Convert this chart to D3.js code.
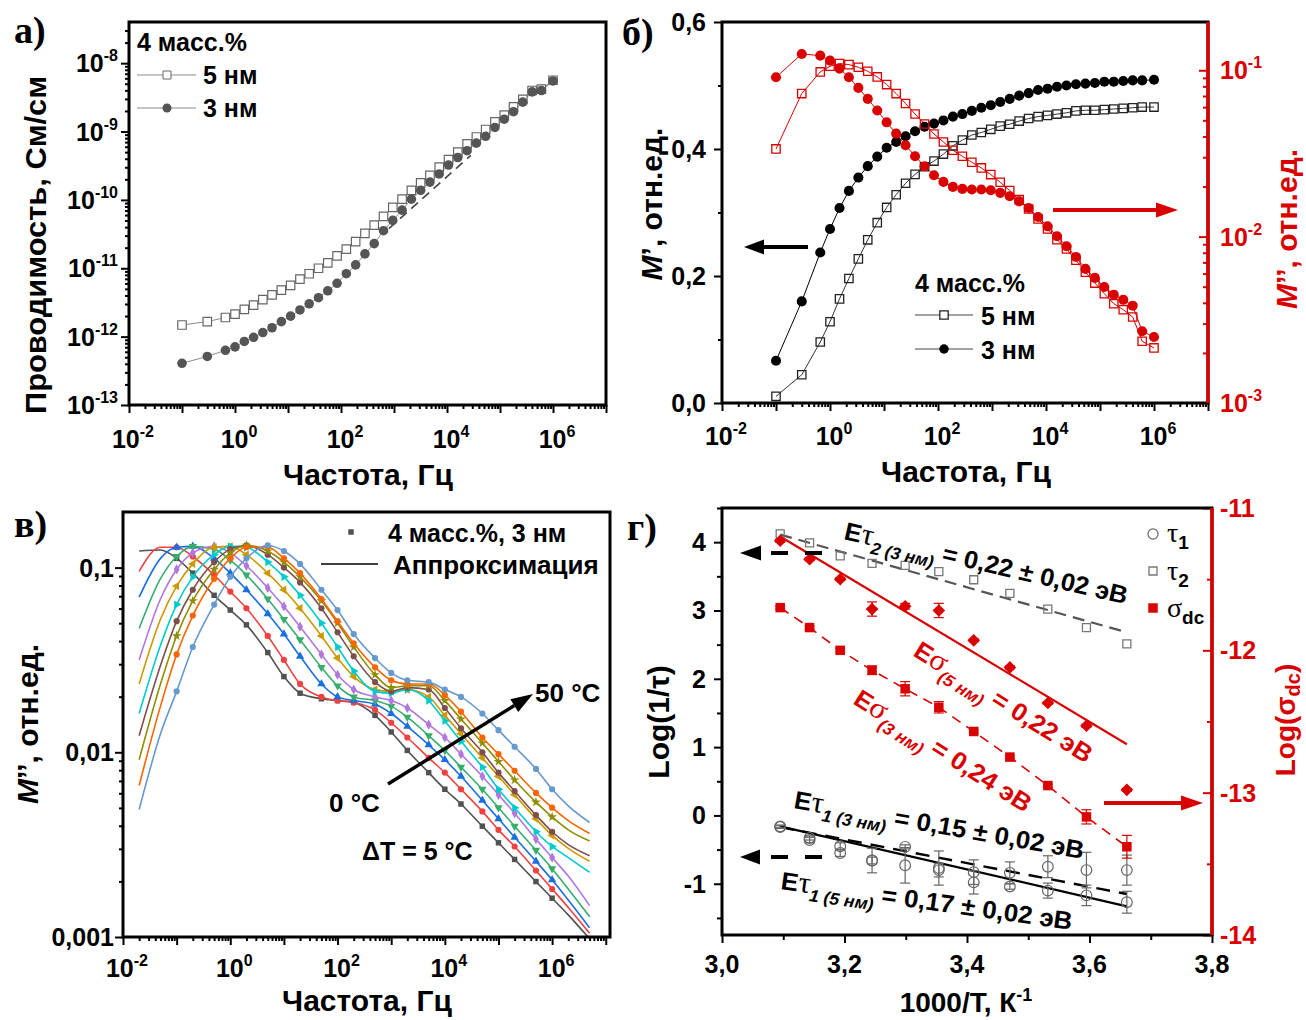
<!DOCTYPE html>
<html>
<head>
<meta charset="utf-8">
<script src="https://cdn.jsdelivr.net/npm/d3@7"></script>
<style>
  body { margin: 0; background: #fff; }
  text { font-family: "Liberation Sans", Arial, sans-serif; font-weight: bold; }
  .serif { font-family: "Liberation Serif", "Times New Roman", serif; }
</style>
</head>
<body>
<svg id="fig" width="1306" height="1020"></svg>
<script>
// ---- panels а, б: measurement frequencies (Hz)
const freq = [0.1, 0.3, 0.66, 1, 1.5, 2.24, 3.35, 5, 7.5, 11.2, 16.8, 25.1, 37.6, 56.3, 84.3, 126, 189, 283, 423, 634, 949, 1420, 2127, 3184, 4767, 7136, 10680, 15990, 23940, 35840, 53660, 80330, 120300, 180000, 269500, 403500, 604000, 1000000];

// panel а: log10 of conductivity, S/cm
const sigma5Log = [-11.83,-11.78,-11.72,-11.67,-11.60,-11.54,-11.46,-11.39,-11.32,-11.25,-11.16,-11.08,-11.00,-10.92,-10.82,-10.72,-10.61,-10.49,-10.37,-10.24,-10.11,-9.99,-9.86,-9.75,-9.64,-9.52,-9.41,-9.30,-9.18,-9.08,-8.97,-8.86,-8.76,-8.64,-8.53,-8.40,-8.38,-8.25];
const sigma3Log = [-12.39,-12.29,-12.20,-12.15,-12.07,-12.01,-11.94,-11.87,-11.78,-11.70,-11.61,-11.52,-11.43,-11.33,-11.22,-11.08,-10.95,-10.79,-10.64,-10.45,-10.30,-10.15,-9.99,-9.86,-9.74,-9.62,-9.49,-9.38,-9.28,-9.17,-9.07,-8.94,-8.82,-8.71,-8.57,-8.42,-8.40,-8.26];
const dashFreqA = [800, 28000];
const dashSigmaLogA = [-10.42, -9.35];

// panel б: M' (linear) and log10 M''
const mPrime5 = [0.0105,0.0445,0.096,0.128,0.164,0.196,0.227,0.257,0.284,0.308,0.328,0.346,0.360,0.372,0.381,0.392,0.405,0.414,0.422,0.426,0.431,0.436,0.439,0.444,0.448,0.451,0.453,0.455,0.457,0.460,0.461,0.461,0.462,0.463,0.464,0.465,0.466,0.466];
const mPrime3 = [0.0665,0.160,0.237,0.274,0.307,0.334,0.355,0.373,0.388,0.402,0.411,0.420,0.428,0.435,0.440,0.445,0.451,0.455,0.460,0.465,0.469,0.474,0.479,0.484,0.488,0.493,0.495,0.498,0.500,0.502,0.503,0.504,0.506,0.506,0.507,0.508,0.508,0.509];
const mpp5Log = [-1.473,-1.140,-1.010,-0.976,-0.960,-0.966,-0.982,-1.006,-1.040,-1.086,-1.140,-1.200,-1.263,-1.323,-1.383,-1.431,-1.481,-1.517,-1.553,-1.587,-1.627,-1.673,-1.723,-1.778,-1.834,-1.894,-1.954,-2.018,-2.074,-2.142,-2.214,-2.279,-2.343,-2.403,-2.439,-2.483,-2.629,-2.669];
const mpp3Log = [-1.042,-0.902,-0.912,-0.942,-0.990,-1.042,-1.106,-1.172,-1.242,-1.313,-1.381,-1.451,-1.517,-1.577,-1.631,-1.671,-1.701,-1.713,-1.717,-1.717,-1.721,-1.737,-1.757,-1.788,-1.828,-1.882,-1.938,-1.998,-2.058,-2.122,-2.194,-2.248,-2.303,-2.349,-2.379,-2.415,-2.569,-2.603];

// panel в: log10 M'' at 0..50 °C, step 5 °C
const fitFreq = [0.02,0.05,0.1,0.2,0.5,1,2,5,10,20,50,100,200,500,1e3,2e3,5e3,1e4,2e4,5e4,1e5,2e5,5e5,1e6,2e6,5e6];
const mpp00 = [-0.91,-0.905,-0.95,-1.03,-1.15,-1.23,-1.31,-1.46,-1.59,-1.68,-1.71,-1.72,-1.73,-1.80,-1.89,-1.99,-2.11,-2.20,-2.28,-2.40,-2.49,-2.58,-2.70,-2.79,-2.88,-3.01];
const mpp05 = [-1.02,-0.89,-0.89,-0.94,-1.04,-1.13,-1.22,-1.37,-1.50,-1.63,-1.70,-1.72,-1.73,-1.77,-1.84,-1.92,-2.03,-2.11,-2.20,-2.32,-2.42,-2.51,-2.64,-2.74,-2.84,-2.98];
const mpp10 = [-1.16,-0.95,-0.89,-0.885,-0.95,-1.03,-1.12,-1.25,-1.36,-1.48,-1.63,-1.70,-1.72,-1.74,-1.79,-1.86,-1.96,-2.04,-2.13,-2.26,-2.36,-2.46,-2.59,-2.69,-2.80,-2.95];
const mpp15 = [-1.33,-1.06,-0.94,-0.885,-0.90,-0.96,-1.04,-1.17,-1.28,-1.39,-1.54,-1.64,-1.70,-1.72,-1.75,-1.81,-1.91,-1.99,-2.08,-2.20,-2.30,-2.40,-2.53,-2.63,-2.74,-2.89];
const mpp20 = [-1.50,-1.17,-1.01,-0.92,-0.885,-0.92,-0.99,-1.11,-1.21,-1.32,-1.47,-1.58,-1.66,-1.70,-1.72,-1.76,-1.85,-1.92,-2.01,-2.13,-2.23,-2.33,-2.47,-2.57,-2.67,-2.83];
const mpp25 = [-1.63,-1.28,-1.10,-0.98,-0.89,-0.885,-0.93,-1.03,-1.12,-1.22,-1.37,-1.49,-1.59,-1.66,-1.67,-1.66,-1.70,-1.80,-1.90,-2.03,-2.13,-2.23,-2.36,-2.45,-2.52,-2.59];
const mpp30 = [-1.79,-1.42,-1.20,-1.05,-0.93,-0.885,-0.89,-0.97,-1.05,-1.15,-1.30,-1.43,-1.56,-1.67,-1.68,-1.66,-1.72,-1.83,-1.94,-2.08,-2.20,-2.30,-2.43,-2.51,-2.57,-2.65];
const mpp35 = [-1.91,-1.53,-1.29,-1.12,-0.97,-0.90,-0.88,-0.93,-1.00,-1.08,-1.22,-1.35,-1.48,-1.62,-1.67,-1.65,-1.66,-1.76,-1.87,-2.00,-2.11,-2.21,-2.34,-2.43,-2.50,-2.56];
const mpp40 = [-2.04,-1.63,-1.37,-1.18,-1.01,-0.92,-0.88,-0.91,-0.97,-1.05,-1.18,-1.30,-1.43,-1.58,-1.65,-1.64,-1.64,-1.72,-1.82,-1.95,-2.05,-2.15,-2.27,-2.35,-2.42,-2.48];
const mpp45 = [-2.18,-1.75,-1.47,-1.26,-1.06,-0.95,-0.89,-0.89,-0.95,-1.03,-1.17,-1.29,-1.41,-1.54,-1.61,-1.63,-1.63,-1.69,-1.78,-1.92,-2.01,-2.10,-2.22,-2.30,-2.37,-2.44];
const mpp50 = [-2.31,-1.90,-1.67,-1.43,-1.20,-1.05,-0.95,-0.88,-0.91,-0.98,-1.12,-1.23,-1.36,-1.49,-1.57,-1.61,-1.62,-1.66,-1.70,-1.79,-1.88,-1.97,-2.09,-2.20,-2.29,-2.38];

// panel г: 1000/T and Arrhenius data
const invT = [3.095, 3.143, 3.193, 3.245, 3.299, 3.354, 3.411, 3.470, 3.532, 3.595, 3.661];
const tau2 = [4.12, 3.99, 3.80, 3.69, 3.66, 3.57, 3.45, 3.25, 3.02, 2.75, 2.51];
const tau1a = [-0.17,-0.36,-0.55,-0.66,-0.73,-0.77,-0.83,-0.84,-0.75,-0.80,-0.80];
const tau1aErr = [0.02,0.04,0.05,0.05,0.26,0.25,0.18,0.16,0.16,0.26,0.22];
const tau1b = [-0.16,-0.33,-0.45,-0.66,-0.46,-0.80,-0.98,-1.04,-1.10,-1.17,-1.27];
const tau1bErr = [0.02,0.03,0.05,0.18,0.03,0.10,0.17,0.04,0.11,0.15,0.16];
const sigma3dc = [-11.70,-11.84,-12.00,-12.14,-12.27,-12.40,-12.57,-12.75,-12.95,-13.17,-13.38];
const sigma3dcErr = [0.01,0.01,0.01,0.03,0.05,0.04,0.01,0.01,0.01,0.05,0.08];
const sigma5dc = [-11.23,-11.36,-11.50,-11.71,-11.69,-11.72,-11.93,-12.12,-12.37,-12.53,-12.98];
const sigma5dcErr = [0.01,0.01,0.01,0.05,0.02,0.05,0.01,0.01,0.01,0.01,0.01];
const fitX = [3.095, 3.661];
const tau2Fit = [4.11, 2.68];
const tau1aFit = [-0.17, -1.15];
const tau1bFit = [-0.16, -1.33];
const sigma5Fit = [-11.20, -12.66];

// ---------------------------------------------------------------
const RED = '#d90000';
const svg = d3.select('#fig');
svg.append('rect').attr('width', 1306).attr('height', 1020).attr('fill', '#fff');

function decades(scale) {
  const [a, b] = scale.domain();
  return d3.range(Math.ceil(Math.log10(a) - 1e-9), Math.floor(Math.log10(b) + 1e-9) + 1).map(n => 10 ** n);
}
function minors(scale) {
  const [a, b] = scale.domain(), out = [];
  for (let n = Math.floor(Math.log10(a)); n <= Math.ceil(Math.log10(b)); n++)
    for (let k = 2; k <= 9; k++) { const v = k * 10 ** n; if (v > a && v < b) out.push(v); }
  return out;
}
function ticks(g, axisFn, scale, values, size, transform, color) {
  const a = g.append('g').attr('transform', transform)
    .call(axisFn(scale).tickValues(values).tickSize(size).tickFormat(''));
  a.select('.domain').remove();
  a.selectAll('line').attr('stroke', color || '#000').attr('stroke-width', 2);
}
function powText(g, x, y, exp, anchor, color) {
  const t = g.append('text').attr('x', x).attr('y', y).attr('text-anchor', anchor)
    .attr('font-size', 25).attr('fill', color || '#000');
  t.append('tspan').text('10');
  t.append('tspan').attr('dy', -11).attr('font-size', 16).text(exp);
}
function frame(g, x, y) {
  const [x0, x1] = x.range(), [y0, y1] = y.range();
  g.append('rect').attr('x', x0).attr('y', y1).attr('width', x1 - x0).attr('height', y0 - y1)
    .attr('fill', 'none').attr('stroke', '#000').attr('stroke-width', 3);
}
function clip(id, x, y) {
  const [x0, x1] = x.range(), [y0, y1] = y.range();
  svg.append('clipPath').attr('id', id).append('rect')
    .attr('x', x0).attr('y', y1).attr('width', x1 - x0).attr('height', y0 - y1);
}
function arrow(g, x1, y1, x2, y2, color, w, hl, hw, dash) {
  const ang = Math.atan2(y2 - y1, x2 - x1);
  const bx = x2 - hl * Math.cos(ang), by = y2 - hl * Math.sin(ang);
  g.append('line').attr('x1', x1).attr('y1', y1).attr('x2', bx).attr('y2', by)
    .attr('stroke', color).attr('stroke-width', w).attr('stroke-dasharray', dash || null);
  const px = -Math.sin(ang) * hw / 2, py = Math.cos(ang) * hw / 2;
  g.append('path').attr('d', `M${x2},${y2}L${bx + px},${by + py}L${bx - px},${by - py}Z`).attr('fill', color);
}
function title(g, x, y, rot, txt, size, color, len) {
  const t = g.append('text').attr('transform', `translate(${x},${y}) rotate(${rot})`)
    .attr('text-anchor', 'middle').attr('font-size', size).attr('fill', color || '#000').text(txt);
  if (len) t.attr('textLength', len).attr('lengthAdjust', 'spacingAndGlyphs');
  return t;
}
function mTitle(g, x, y, primes, color) {
  const t = g.append('text').attr('transform', `translate(${x},${y}) rotate(-90)`)
    .attr('text-anchor', 'middle').attr('font-size', 30).attr('fill', color);
  t.append('tspan').attr('font-style', 'italic').text('M');
  t.append('tspan').text(primes + ', отн.ед.');
}
function letter(x, y, txt) {
  svg.append('text').attr('class', 'serif').attr('x', x).attr('y', y).attr('font-size', 38).text(txt);
}
const comma = v => String(v).replace('.', ',');
const sym = (type, size) => d3.symbol().type(type).size(size)();

// =============== panel а ===============
const gA = svg.append('g');
const xA = d3.scaleLog().domain([1e-2, 1e7]).range([129, 606]);
const yA = d3.scaleLog().domain([1e-13, 4e-8]).range([405, 22]);
ticks(gA, d3.axisBottom, xA, decades(xA), 8, 'translate(0,405)');
ticks(gA, d3.axisBottom, xA, minors(xA), 4, 'translate(0,405)');
ticks(gA, d3.axisLeft, yA, decades(yA), 8, 'translate(129,0)');
ticks(gA, d3.axisLeft, yA, minors(yA), 4, 'translate(129,0)');
[-2, 0, 2, 4, 6].forEach(n => powText(gA, xA(10 ** n) + 4, 448, n, 'middle'));
[-13, -12, -11, -10, -9, -8].forEach(n => powText(gA, 118, yA(10 ** n) + 9, n, 'end'));

const lineA = d3.line().x(d => xA(d[0])).y(d => yA(10 ** d[1]));
const ptsA5 = freq.map((f, i) => [f, sigma5Log[i]]);
const ptsA3 = freq.map((f, i) => [f, sigma3Log[i]]);
gA.append('path').attr('d', lineA(ptsA5)).attr('fill', 'none').attr('stroke', '#8c8c8c').attr('stroke-width', 1);
gA.append('path').attr('d', lineA(ptsA3)).attr('fill', 'none').attr('stroke', '#8c8c8c').attr('stroke-width', 1);
gA.append('path').attr('d', lineA(dashFreqA.map((f, i) => [f, dashSigmaLogA[i]])))
  .attr('fill', 'none').attr('stroke', '#444').attr('stroke-width', 1.6).attr('stroke-dasharray', '9,6');
gA.selectAll('.a5').data(ptsA5).join('path').attr('class', 'a5')
  .attr('transform', d => `translate(${xA(d[0])},${yA(10 ** d[1])})`)
  .attr('d', sym(d3.symbolSquare, 72)).attr('fill', '#fff').attr('stroke', '#666').attr('stroke-width', 1.2);
gA.selectAll('.a3').data(ptsA3).join('path').attr('class', 'a3')
  .attr('transform', d => `translate(${xA(d[0])},${yA(10 ** d[1])})`)
  .attr('d', sym(d3.symbolCircle, 72)).attr('fill', '#555');
frame(gA, xA, yA);

gA.append('text').attr('x', 137).attr('y', 51).attr('font-size', 25).text('4 масс.%');
[[75, 'sq', '5 нм'], [108, 'ci', '3 нм']].forEach(([y, m, lab]) => {
  gA.append('line').attr('x1', 137).attr('x2', 196).attr('y1', y).attr('y2', y).attr('stroke', '#8c8c8c').attr('stroke-width', 1.2);
  gA.append('path').attr('transform', `translate(167,${y})`)
    .attr('d', sym(m === 'sq' ? d3.symbolSquare : d3.symbolCircle, 64))
    .attr('fill', m === 'sq' ? '#fff' : '#555').attr('stroke', m === 'sq' ? '#666' : 'none');
  gA.append('text').attr('x', 203).attr('y', y + 9).attr('font-size', 25).text(lab);
});
title(gA, 46, 245, -90, 'Проводимость, См/см', 30, '#000', 338);
title(gA, 368, 485, 0, 'Частота, Гц', 30);
letter(14, 43, 'а)');

// =============== panel б ===============
const gB = svg.append('g');
const xB = d3.scaleLog().domain([1e-2, 1e7]).range([722, 1208]);
const yB = d3.scaleLinear().domain([0, 0.6]).range([403, 22]);
const yB2 = d3.scaleLog().domain([1e-3, 0.195]).range([403, 22]);
ticks(gB, d3.axisBottom, xB, decades(xB), 8, 'translate(0,403)');
ticks(gB, d3.axisBottom, xB, minors(xB), 4, 'translate(0,403)');
ticks(gB, d3.axisLeft, yB, [0, 0.2, 0.4, 0.6], 8, 'translate(722,0)');
ticks(gB, d3.axisLeft, yB, [0.1, 0.3, 0.5], 4, 'translate(722,0)');
ticks(gB, d3.axisLeft, yB2, decades(yB2), 9, 'translate(1208,0)', RED);
ticks(gB, d3.axisLeft, yB2, minors(yB2), 5, 'translate(1208,0)', RED);
[-2, 0, 2, 4, 6].forEach(n => powText(gB, xB(10 ** n) + 4, 445, n, 'middle'));
[0, 0.2, 0.4, 0.6].forEach(v => gB.append('text').attr('x', 706).attr('y', yB(v) + 9)
  .attr('text-anchor', 'end').attr('font-size', 25).text(comma(v.toFixed(1))));
[-3, -2, -1].forEach(n => powText(gB, 1220, yB2(10 ** n) + 9, n, 'start', RED));

const lineB = d3.line().x(d => xB(d[0])).y(d => yB(d[1]));
const lineB2 = d3.line().x(d => xB(d[0])).y(d => yB2(10 ** d[1]));
const ptsB5 = freq.map((f, i) => [f, mPrime5[i]]);
const ptsB3 = freq.map((f, i) => [f, mPrime3[i]]);
const ptsR5 = freq.map((f, i) => [f, mpp5Log[i]]);
const ptsR3 = freq.map((f, i) => [f, mpp3Log[i]]);
gB.append('path').attr('d', lineB(ptsB5)).attr('fill', 'none').attr('stroke', '#333').attr('stroke-width', 1);
gB.append('path').attr('d', lineB(ptsB3)).attr('fill', 'none').attr('stroke', '#000').attr('stroke-width', 1);
gB.append('path').attr('d', lineB2(ptsR5)).attr('fill', 'none').attr('stroke', RED).attr('stroke-width', 1);
gB.append('path').attr('d', lineB2(ptsR3)).attr('fill', 'none').attr('stroke', RED).attr('stroke-width', 1);
gB.selectAll('.b5').data(ptsB5).join('path').attr('class', 'b5')
  .attr('transform', d => `translate(${xB(d[0])},${yB(d[1])})`)
  .attr('d', sym(d3.symbolSquare, 70)).attr('fill', 'none').attr('stroke', '#222').attr('stroke-width', 1.3);
gB.selectAll('.b3').data(ptsB3).join('path').attr('class', 'b3')
  .attr('transform', d => `translate(${xB(d[0])},${yB(d[1])})`)
  .attr('d', sym(d3.symbolCircle, 80)).attr('fill', '#000');
gB.selectAll('.r5').data(ptsR5).join('path').attr('class', 'r5')
  .attr('transform', d => `translate(${xB(d[0])},${yB2(10 ** d[1])})`)
  .attr('d', sym(d3.symbolSquare, 70)).attr('fill', 'none').attr('stroke', RED).attr('stroke-width', 1.3);
gB.selectAll('.r3').data(ptsR3).join('path').attr('class', 'r3')
  .attr('transform', d => `translate(${xB(d[0])},${yB2(10 ** d[1])})`)
  .attr('d', sym(d3.symbolCircle, 80)).attr('fill', RED);
frame(gB, xB, yB);
gB.append('line').attr('x1', 1208).attr('x2', 1208).attr('y1', 22).attr('y2', 403).attr('stroke', RED).attr('stroke-width', 3.5);

arrow(gB, 808, 247, 744, 247, '#000', 4, 20, 15);
arrow(gB, 1053, 210, 1178, 210, RED, 4, 22, 15);
gB.append('text').attr('x', 915).attr('y', 292).attr('font-size', 25).text('4 масс.%');
[[315, 'sq', '5 нм'], [349, 'ci', '3 нм']].forEach(([y, m, lab]) => {
  gB.append('line').attr('x1', 915).attr('x2', 973).attr('y1', y).attr('y2', y).attr('stroke', '#444').attr('stroke-width', 1);
  gB.append('path').attr('transform', `translate(944,${y})`)
    .attr('d', sym(m === 'sq' ? d3.symbolSquare : d3.symbolCircle, 70))
    .attr('fill', m === 'sq' ? '#fff' : '#000').attr('stroke', m === 'sq' ? '#222' : 'none').attr('stroke-width', 1.3);
  gB.append('text').attr('x', 981).attr('y', y + 10).attr('font-size', 25).text(lab);
});
mTitle(gB, 662, 204, '’', '#000');
mTitle(gB, 1297, 229, '’’', RED);
title(gB, 966, 482, 0, 'Частота, Гц', 30);
letter(622, 45, 'б)');

// =============== panel в ===============
const gC = svg.append('g');
const xC = d3.scaleLog().domain([1e-2, 1.2e7]).range([123, 610]);
const yC = d3.scaleLog().domain([1e-3, 0.2]).range([937, 512]);
clip('clipC', xC, yC);
ticks(gC, d3.axisBottom, xC, decades(xC), 8, 'translate(0,937)');
ticks(gC, d3.axisBottom, xC, minors(xC), 4, 'translate(0,937)');
ticks(gC, d3.axisLeft, yC, decades(yC), 8, 'translate(123,0)');
ticks(gC, d3.axisLeft, yC, minors(yC), 4, 'translate(123,0)');
[-2, 0, 2, 4, 6].forEach(n => powText(gC, xC(10 ** n) + 4, 977, n, 'middle'));
[[0.001, '0,001'], [0.01, '0,01'], [0.1, '0,1']].forEach(([v, s]) => gC.append('text')
  .attr('x', 114).attr('y', yC(v) + 9).attr('text-anchor', 'end').attr('font-size', 25).text(s));

const tempCurves = [mpp00, mpp05, mpp10, mpp15, mpp20, mpp25, mpp30, mpp35, mpp40, mpp45, mpp50];
const tempColors = ['#515151', '#F14040', '#1A6FDF', '#37AD6B', '#B177DE', '#CC9900', '#00CBCC', '#7D4E4E', '#8E8E00', '#FB6500', '#6699CC'];
const tempSymbols = [[d3.symbolSquare, 0], [d3.symbolCircle, 0], [d3.symbolTriangle, 0], [d3.symbolTriangle, 180],
  [d3.symbolDiamond, 0], [d3.symbolTriangle, -90], [d3.symbolTriangle, 90], [d3.symbolCircle, 0],
  [d3.symbolStar, 0], [d3.symbolCircle, 0], [d3.symbolCircle, 0]];
const lineC = d3.line().curve(d3.curveMonotoneX).x(d => xC(d[0])).y(d => yC(10 ** d[1]));
tempCurves.forEach((arr, k) => {
  const pts = arr.map((v, i) => [fitFreq[i], v]);
  gC.append('path').attr('clip-path', 'url(#clipC)').attr('d', lineC(pts))
    .attr('fill', 'none').attr('stroke', tempColors[k]).attr('stroke-width', 1.6);
  gC.selectAll(null).data(pts.filter(d => d[0] >= 0.1 && d[0] <= 1e6)).join('path')
    .attr('transform', d => `translate(${xC(d[0])},${yC(10 ** d[1])}) rotate(${tempSymbols[k][1]})`)
    .attr('d', sym(tempSymbols[k][0], 30)).attr('fill', tempColors[k]);
});
frame(gC, xC, yC);
gC.append('path').attr('transform', 'translate(351,532)').attr('d', sym(d3.symbolSquare, 30)).attr('fill', '#515151');
gC.append('text').attr('x', 388).attr('y', 542).attr('font-size', 25).text('4 масс.%, 3 нм');
gC.append('line').attr('x1', 321).attr('x2', 378).attr('y1', 564).attr('y2', 564).attr('stroke', '#000').attr('stroke-width', 1.5);
gC.append('text').attr('x', 393).attr('y', 574).attr('font-size', 26).text('Аппроксимация');
arrow(gC, 388, 784, 533, 694, '#000', 3.5, 22, 15);
gC.append('text').attr('x', 535).attr('y', 702).attr('font-size', 26).text('50 °C');
gC.append('text').attr('x', 329).attr('y', 812).attr('font-size', 26).text('0 °C');
gC.append('text').attr('x', 362).attr('y', 860).attr('font-size', 25).text('ΔT = 5 °C');
mTitle(gC, 38, 724, '’’', '#000');
title(gC, 367, 1011, 0, 'Частота, Гц', 30);
letter(14, 537, 'в)');

// =============== panel г ===============
const gD = svg.append('g');
const xD = d3.scaleLinear().domain([3.0, 3.8]).range([722, 1212]);
const yD = d3.scaleLinear().domain([-1.75, 4.5]).range([935, 508]);
const yD2 = d3.scaleLinear().domain([-14, -11]).range([935, 508]);
ticks(gD, d3.axisBottom, xD, [3.0, 3.2, 3.4, 3.6, 3.8], 8, 'translate(0,935)');
ticks(gD, d3.axisBottom, xD, [3.1, 3.3, 3.5, 3.7], 5, 'translate(0,935)');
ticks(gD, d3.axisLeft, yD, [-1, 0, 1, 2, 3, 4], 8, 'translate(722,0)');
ticks(gD, d3.axisLeft, yD, [-1.5, -0.5, 0.5, 1.5, 2.5, 3.5, 4.5], 5, 'translate(722,0)');
ticks(gD, d3.axisLeft, yD2, [-14, -13, -12, -11], 9, 'translate(1212,0)', RED);
ticks(gD, d3.axisLeft, yD2, [-13.5, -12.5, -11.5], 5, 'translate(1212,0)', RED);
[3.0, 3.2, 3.4, 3.6, 3.8].forEach(v => gD.append('text').attr('x', xD(v)).attr('y', 973)
  .attr('text-anchor', 'middle').attr('font-size', 25).text(comma(v.toFixed(1))));
[-1, 0, 1, 2, 3, 4].forEach(v => gD.append('text').attr('x', 706).attr('y', yD(v) + 9)
  .attr('text-anchor', 'end').attr('font-size', 25).text(v));
[-14, -13, -12, -11].forEach(v => gD.append('text').attr('x', 1220).attr('y', yD2(v) + 9)
  .attr('font-size', 25).attr('fill', RED).text(v));

const lineD = d3.line().x(d => xD(d[0])).y(d => yD(d[1]));
const lineD2 = d3.line().x(d => xD(d[0])).y(d => yD2(d[1]));
const fitPts = arr => fitX.map((x, i) => [x, arr[i]]);
gD.append('path').attr('d', lineD(fitPts(tau2Fit))).attr('fill', 'none').attr('stroke', '#555').attr('stroke-width', 2.2).attr('stroke-dasharray', '12,7');
gD.append('path').attr('d', lineD2(fitPts(sigma5Fit))).attr('fill', 'none').attr('stroke', RED).attr('stroke-width', 2.2);
gD.append('path').attr('d', lineD2(invT.map((x, i) => [x, sigma3dc[i]]))).attr('fill', 'none').attr('stroke', RED).attr('stroke-width', 1.6).attr('stroke-dasharray', '10,7');
gD.append('path').attr('d', lineD(fitPts(tau1bFit))).attr('fill', 'none').attr('stroke', '#000').attr('stroke-width', 2.2);
gD.append('path').attr('d', lineD(fitPts(tau1aFit))).attr('fill', 'none').attr('stroke', '#000').attr('stroke-width', 2.4).attr('stroke-dasharray', '14,9');

function errBars(g, xs, ys, es, sx, sy, color) {
  xs.forEach((x, i) => {
    const px = sx(x), a = sy(ys[i] - es[i]), b = sy(ys[i] + es[i]);
    g.append('line').attr('x1', px).attr('x2', px).attr('y1', a).attr('y2', b).attr('stroke', color).attr('stroke-width', 1.2);
    [a, b].forEach(yy => g.append('line').attr('x1', px - 5).attr('x2', px + 5).attr('y1', yy).attr('y2', yy).attr('stroke', color).attr('stroke-width', 1.2));
  });
}
errBars(gD, invT, tau1a, tau1aErr, xD, yD, '#666');
errBars(gD, invT, tau1b, tau1bErr, xD, yD, '#666');
errBars(gD, invT, sigma3dc, sigma3dcErr, xD, yD2, RED);
errBars(gD, invT, sigma5dc, sigma5dcErr, xD, yD2, RED);
gD.selectAll('.t2').data(invT.map((x, i) => [x, tau2[i]])).join('path').attr('class', 't2')
  .attr('transform', d => `translate(${xD(d[0])},${yD(d[1])})`)
  .attr('d', sym(d3.symbolSquare, 64)).attr('fill', 'none').attr('stroke', '#777').attr('stroke-width', 1.3);
[tau1a, tau1b].forEach(arr => gD.selectAll(null).data(invT.map((x, i) => [x, arr[i]])).join('path')
  .attr('transform', d => `translate(${xD(d[0])},${yD(d[1])})`)
  .attr('d', sym(d3.symbolCircle, 90)).attr('fill', 'none').attr('stroke', '#666').attr('stroke-width', 1.2));
gD.selectAll('.s3').data(invT.map((x, i) => [x, sigma3dc[i]])).join('path').attr('class', 's3')
  .attr('transform', d => `translate(${xD(d[0])},${yD2(d[1])})`)
  .attr('d', sym(d3.symbolSquare, 90)).attr('fill', RED);
gD.selectAll('.s5').data(invT.map((x, i) => [x, sigma5dc[i]])).join('path').attr('class', 's5')
  .attr('transform', d => `translate(${xD(d[0])},${yD2(d[1])}) rotate(45)`)
  .attr('d', sym(d3.symbolSquare, 80)).attr('fill', RED);
frame(gD, xD, yD);
gD.append('line').attr('x1', 1212).attr('x2', 1212).attr('y1', 508).attr('y2', 935).attr('stroke', RED).attr('stroke-width', 3.5);

arrow(gD, 822, 553, 740, 553, '#000', 4, 21, 15, '17,17');
arrow(gD, 822, 857, 740, 857, '#000', 4, 20, 15, '17,17');
arrow(gD, 1104, 803, 1203, 803, RED, 4, 22, 15);

function eLabel(x, y, ang, len, greek, sub, rest, color) {
  const t = gD.append('text').attr('transform', `translate(${x},${y}) rotate(${ang})`)
    .attr('font-size', 25).attr('fill', color).attr('textLength', len).attr('lengthAdjust', 'spacingAndGlyphs');
  t.append('tspan').text('E');
  t.append('tspan').attr('class', 'serif').attr('font-weight', 'normal').attr('font-size', 30).text(greek);
  t.append('tspan').attr('font-size', 17).attr('font-style', 'italic').attr('dy', 8).text(sub);
  t.append('tspan').attr('dy', -8).text(rest);
}
eLabel(843, 539, 13, 290, 'τ', '2 (3 нм)', ' = 0,22 ± 0,02 эВ', '#000');
eLabel(912, 655, 32, 205, 'σ', '(5 нм)', ' = 0,22 эВ', RED);
eLabel(852, 703, 32.5, 205, 'σ', '(3 нм)', ' = 0,24 эВ', RED);
eLabel(793, 808, 10, 294, 'τ', '1 (3 нм)', ' = 0,15 ± 0,02 эВ', '#000');
eLabel(780, 889, 8, 294, 'τ', '1 (5 нм)', ' = 0,17 ± 0,02 эВ', '#000');

gD.append('path').attr('transform', 'translate(1153,534)').attr('d', sym(d3.symbolCircle, 80)).attr('fill', 'none').attr('stroke', '#666').attr('stroke-width', 1.2);
gD.append('path').attr('transform', 'translate(1153,571)').attr('d', sym(d3.symbolSquare, 64)).attr('fill', 'none').attr('stroke', '#777').attr('stroke-width', 1.3);
gD.append('path').attr('transform', 'translate(1153,608)').attr('d', sym(d3.symbolSquare, 90)).attr('fill', RED);
[[542, 'τ', '1'], [580, 'τ', '2'], [617, 'σ', 'dc']].forEach(([y, g, s]) => {
  const t = gD.append('text').attr('x', 1167).attr('y', y).attr('font-size', 28);
  t.append('tspan').attr('class', 'serif').attr('font-weight', 'normal').text(g);
  t.append('tspan').attr('font-size', 19).attr('dy', 7).text(s);
});

title(gD, 669, 722, -90, 'Log(1/τ)', 30);
const rl = gD.append('text').attr('transform', 'translate(1295,720) rotate(-90)')
  .attr('text-anchor', 'middle').attr('font-size', 28).attr('fill', RED);
rl.append('tspan').text('Log(σ');
rl.append('tspan').attr('font-size', 20).attr('dy', 5).text('dc');
rl.append('tspan').attr('dy', -5).text(')');
const xl = gD.append('text').attr('x', 966).attr('y', 1012).attr('text-anchor', 'middle').attr('font-size', 28);
xl.append('tspan').text('1000/T, К');
xl.append('tspan').attr('font-size', 18).attr('dy', -11).text('-1');
letter(627, 540, 'г)');
</script>
</body>
</html>
